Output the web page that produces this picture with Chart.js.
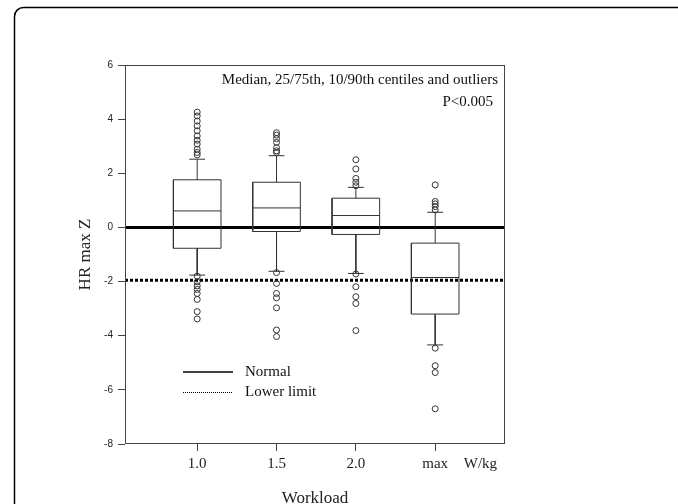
<!DOCTYPE html>
<html>
<head>
<meta charset="utf-8">
<script src="https://cdn.jsdelivr.net/npm/chart.js@4"></script>
<style>
  html, body { margin: 0; padding: 0; background: #fff; }
  #wrap { width: 678px; height: 504px; }
</style>
</head>
<body>
<div id="wrap"><canvas id="hr" width="678" height="504"></canvas></div>
<script>
// workload categories and their place on the x axis
const categories = ['1.0', '1.5', '2.0', 'max']
const positions = [1, 2, 3, 4]

// box plot stats (HR max Z)
const p10 = [-1.76, -1.62, -1.70, -4.34]
const q1 = [-0.77, -0.15, -0.26, -3.20]
const median = [0.61, 0.72, 0.44, -1.85]
const q3 = [1.76, 1.67, 1.08, -0.58]
const p90 = [2.52, 2.65, 1.48, 0.56]

const outliersHigh = [
  [2.68, 2.77, 2.89, 3.08, 3.22, 3.38, 3.57, 3.75, 3.93, 4.12, 4.26],
  [2.77, 2.83, 2.95, 3.14, 3.28, 3.41, 3.50],
  [1.54, 1.67, 1.81, 2.16, 2.50],
  [0.65, 0.77, 0.87, 0.96, 1.57]
]
const outliersLow = [
  [-1.80, -2.01, -2.16, -2.29, -2.44, -2.66, -3.11, -3.38],
  [-1.67, -2.07, -2.44, -2.60, -2.97, -3.79, -4.03],
  [-1.72, -2.19, -2.56, -2.81, -3.81],
  [-4.46, -5.11, -5.36, -6.70]
]

const normalLevel = 0
const lowerLimit = -1.95

const yTicks = [-8, -6, -4, -2, 0, 2, 4, 6]
const xMin = 0.09, xMax = 4.88

const serif = "'Liberation Serif', 'Times New Roman', serif"
const sans = "'Liberation Sans', Arial, sans-serif"

// build the box outline, median, whiskers and caps for one group
const boxShape = (i) => {
  const x = positions[i], h = 0.3, c = 0.1
  const gap = {x: x, y: null}
  return [
    {x: x - h, y: q1[i]}, {x: x + h, y: q1[i]}, {x: x + h, y: q3[i]}, {x: x - h, y: q3[i]}, {x: x - h, y: q1[i]},
    gap,
    {x: x - h, y: median[i]}, {x: x + h, y: median[i]},
    gap,
    {x: x, y: q3[i]}, {x: x, y: p90[i]},
    gap,
    {x: x - c, y: p90[i]}, {x: x + c, y: p90[i]},
    gap,
    {x: x, y: q1[i]}, {x: x, y: p10[i]},
    gap,
    {x: x - c, y: p10[i]}, {x: x + c, y: p10[i]}
  ]
}

const datasets = []
positions.forEach((x, i) => {
  datasets.push({
    type: 'line',
    data: boxShape(i),
    borderColor: '#333',
    borderWidth: 1,
    pointRadius: 0,
    spanGaps: false,
    fill: false
  })
})

const outlierPoints = []
positions.forEach((x, i) => {
  outliersHigh[i].concat(outliersLow[i]).forEach(v => outlierPoints.push({x: x, y: v}))
})
datasets.push({
  type: 'scatter',
  data: outlierPoints,
  pointRadius: 3,
  pointBorderWidth: 1,
  pointBorderColor: '#333',
  pointBackgroundColor: 'rgba(255,255,255,0)'
})

datasets.push({
  type: 'line',
  data: [{x: xMin, y: normalLevel}, {x: xMax, y: normalLevel}],
  borderColor: '#000',
  borderWidth: 3,
  pointRadius: 0
})
datasets.push({
  type: 'line',
  data: [{x: xMin, y: lowerLimit}, {x: xMax, y: lowerLimit}],
  borderColor: '#000',
  borderWidth: 3,
  borderDash: [3, 2],
  pointRadius: 0
})

const xTickValues = positions.concat([4.57])
const xTickLabels = categories.concat(['W/kg'])

const decor = {
  id: 'decor',
  afterDraw(chart) {
    const ctx = chart.ctx
    const a = chart.chartArea
    ctx.save()
    // outer rounded frame
    ctx.strokeStyle = '#000'
    ctx.lineWidth = 1.5
    ctx.beginPath()
    ctx.roundRect(14.5, 7.5, 700, 540, 9)
    ctx.stroke()
    // plot frame
    ctx.strokeStyle = '#444'
    ctx.lineWidth = 1
    ctx.strokeRect(a.left + 0.5, a.top + 0.5, a.right - a.left - 1, a.bottom - a.top - 1)
    // note in the corner
    ctx.fillStyle = '#111'
    ctx.font = '15px ' + serif
    ctx.textAlign = 'right'
    ctx.textBaseline = 'middle'
    ctx.fillText('Median, 25/75th, 10/90th centiles and outliers', a.right - 7, 80)
    ctx.fillText('P<0.005', a.right - 12, 102)
    // legend
    ctx.textAlign = 'left'
    ctx.strokeStyle = '#000'
    ctx.lineWidth = 1.5
    ctx.beginPath()
    ctx.moveTo(183, 372)
    ctx.lineTo(233, 372)
    ctx.stroke()
    ctx.lineWidth = 1
    ctx.setLineDash([1, 1])
    ctx.beginPath()
    ctx.moveTo(183, 392.5)
    ctx.lineTo(233, 392.5)
    ctx.stroke()
    ctx.setLineDash([])
    ctx.fillText('Normal', 245, 372)
    ctx.fillText('Lower limit', 245, 392)
    ctx.restore()
  }
}

new Chart(document.getElementById('hr'), {
  type: 'scatter',
  data: {datasets: datasets},
  options: {
    responsive: false,
    animation: false,
    layout: {padding: {left: 75, top: 65, right: 173, bottom: 0}},
    plugins: {legend: {display: false}, tooltip: {enabled: false}},
    scales: {
      x: {
        type: 'linear',
        min: xMin,
        max: xMax,
        afterBuildTicks: (scale) => { scale.ticks = xTickValues.map(v => ({value: v})) },
        afterFit: (scale) => { scale.height = 60 },
        grid: {
          drawOnChartArea: false,
          tickLength: 7,
          tickColor: (c) => c.index === 4 ? 'rgba(0,0,0,0)' : '#444'
        },
        border: {display: false},
        ticks: {
          autoSkip: false,
          maxRotation: 0,
          padding: 4,
          color: '#222',
          font: {family: serif, size: 15},
          callback: (v, i) => xTickLabels[i]
        },
        title: {
          display: true,
          text: 'Workload',
          color: '#222',
          font: {family: serif, size: 17},
          padding: {top: 0, bottom: -5}
        }
      },
      y: {
        min: -8,
        max: 6,
        afterBuildTicks: (scale) => { scale.ticks = yTicks.map(v => ({value: v})) },
        afterFit: (scale) => { scale.width = 50 },
        grid: {drawOnChartArea: false, tickLength: 7, tickColor: '#444'},
        border: {display: false},
        ticks: {
          padding: 5,
          color: '#222',
          font: {family: sans, size: 10}
        },
        title: {
          display: true,
          text: 'HR max Z',
          color: '#222',
          font: {family: serif, size: 17},
          padding: {top: 0, bottom: 0}
        }
      }
    }
  },
  plugins: [decor]
})
</script>
</body>
</html>
